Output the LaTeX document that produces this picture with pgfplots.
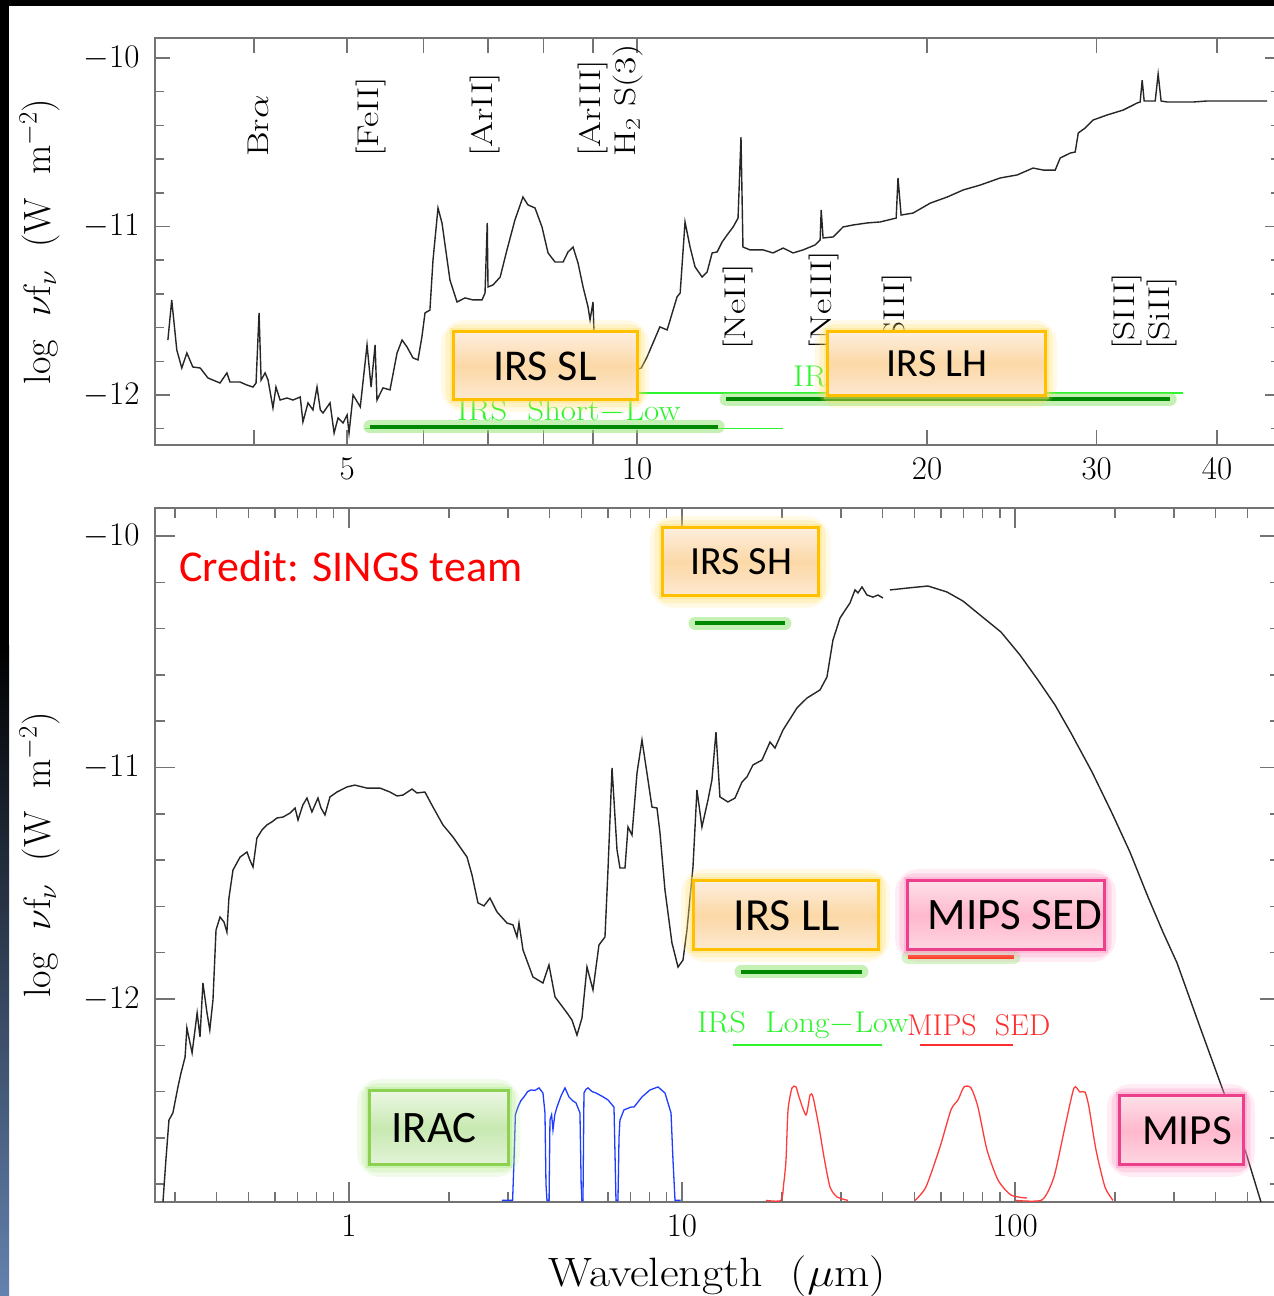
\RequirePackage{fix-cm}
\documentclass[border=0pt]{standalone}
\usepackage{graphicx}
\usepackage{fontspec}
\newfontfamily\carlito{Carlito}
\usepackage{pgfplots}
\pgfplotsset{compat=1.18}

% callout colours
\definecolor{orgedge}{RGB}{255,192,0}
\definecolor{orgglow}{RGB}{255,222,100}
\definecolor{orgtop}{RGB}{253,238,222}
\definecolor{orgmid}{RGB}{252,216,166}
\definecolor{orgbot}{RGB}{253,233,210}
\definecolor{pnkedge}{RGB}{236,64,140}
\definecolor{pnkglow}{RGB}{255,140,190}
\definecolor{pnktop}{RGB}{253,224,232}
\definecolor{pnkmid}{RGB}{255,184,205}
\definecolor{pnkbot}{RGB}{254,214,226}
\definecolor{grnedge}{RGB}{140,210,80}
\definecolor{grnglow}{RGB}{170,232,130}
\definecolor{grntop}{RGB}{236,247,228}
\definecolor{grnmid}{RGB}{200,233,178}
\definecolor{grnbot}{RGB}{226,243,215}
\definecolor{bardark}{RGB}{0,136,0}
\definecolor{barglow}{RGB}{150,232,120}
\definecolor{barred}{RGB}{255,51,0}
\definecolor{lgreen}{RGB}{45,245,45}
\definecolor{lred}{RGB}{255,45,45}
\definecolor{iracblue}{RGB}{30,60,255}
\definecolor{mipsred}{RGB}{255,60,60}
\definecolor{steel}{RGB}{100,130,175}

\newcommand{\labfont}{\fontsize{30}{30}\selectfont}
% plot-style lettering is set a little wide
\newcommand{\wide}[2][1.25]{\scalebox{#1}[1]{#2}}

% glowing callout: #1 colour prefix, #2..#5 corners, #6 font size, #7 text centre x, #8 text
\newcommand{\callout}[8]{%
  \draw[draw=#1glow, opacity=0.16, line width=24pt, rounded corners=12pt] (#2,#3) rectangle (#4,#5);
  \draw[draw=#1glow, opacity=0.25, line width=15pt, rounded corners=7pt] (#2,#3) rectangle (#4,#5);
  \draw[draw=#1glow, opacity=0.35, line width=7pt] (#2,#3) rectangle (#4,#5);
  \shade[top color=#1top, bottom color=#1bot, middle color=#1mid] (#2,#3) rectangle (#4,#5);
  \draw[draw=#1edge, line width=3pt] (#2,#3) rectangle (#4,#5);
  \node[font=\carlito\fontsize{#6}{#6}\selectfont, inner sep=0pt] at (#7,{(#3+#5)/2}) {#8};
}

\pgfplotsset{
  sedaxis/.style={
    scale only axis, anchor=south west, width=1125pt,
    axis line style={draw=black!55, line width=1.8pt},
    every tick/.style={draw=black!55, line width=1.5pt},
    tick label style={font=\fontsize{33}{33}\selectfont},
    xticklabel style={yshift=-9pt},
    yticklabel style={xshift=-12pt},
    ylabel={log\ \ $\nu$f$_\nu$\ \ (W\ \ m$^{-2}$)},
    ylabel style={font=\fontsize{38}{38}\selectfont, at={(axis description cs:-0.1025,0.5)}, anchor=center},
  },
  spec/.style={black!85, line width=1.4pt, mark=none},
  glowbar/.style={barglow, opacity=0.55, line width=13pt, line cap=round},
  darkbar/.style={bardark, line width=4pt},
}

\begin{document}
\begin{tikzpicture}[x=1pt, y=1pt]
% page background
\fill[white] (0,0) rectangle (1274,1296);
\fill[black] (0,1290) rectangle (1274,1296);
\fill[black] (0,650) rectangle (9,1296);
\shade[top color=black, bottom color=steel] (0,0) rectangle (9,650);

% ---------------- upper panel: IRS spectrum ----------------
\begin{axis}[xmode=log, sedaxis,
  at={(155pt,851pt)}, height=407pt,
  xmin=3.159, xmax=46.5, ymin=-12.297, ymax=-9.881,
  xtick={4,5,6,7,8,9,10,20,30,40},
  xticklabels={,5,,,,,10,20,30,40},
  ytick={-12,-11,-10},
  minor ytick={-12.2,-11.8,-11.6,-11.4,-11.2,-10.8,-10.6,-10.4,-10.2},
  major tick length=15pt, minor tick length=9pt,
]
\addplot[spec] coordinates {
(3.258,-11.674) (3.288,-11.436) (3.328,-11.733) (3.368,-11.840) (3.409,-11.751) (3.458,-11.834)
(3.52,-11.840) (3.585,-11.899) (3.69,-11.929) (3.752,-11.869) (3.779,-11.923) (3.87,-11.923)
(3.936,-11.941) (3.993,-11.953) (4.022,-11.929) (4.051,-11.513) (4.071,-11.911) (4.11,-11.869)
(4.139,-11.911) (4.188,-12.077) (4.218,-11.953) (4.26,-12.030) (4.331,-12.018) (4.393,-12.030)
(4.47,-12.012) (4.499,-12.160) (4.554,-12.047) (4.608,-12.089) (4.653,-11.953) (4.69,-12.089)
(4.72,-12.107) (4.80,-12.047) (4.847,-12.226) (4.893,-12.136) (4.952,-12.166) (5.0,-12.119)
(5.023,-12.226) (5.072,-12.0) (5.16,-12.071) (5.244,-11.703) (5.295,-11.953) (5.346,-11.703)
(5.37,-12.030) (5.448,-11.958) (5.54,-11.970) (5.634,-11.751) (5.702,-11.674) (5.77,-11.715)
(5.853,-11.780) (5.923,-11.792) (5.979,-11.656) (6.024,-11.513) (6.095,-11.496) (6.14,-11.199)
(6.214,-10.890) (6.273,-10.979) (6.394,-11.318) (6.503,-11.448) (6.629,-11.424) (6.757,-11.436)
(6.903,-11.436) (6.953,-11.395) (6.99,-10.979) (7.003,-11.359) (7.087,-11.347) (7.21,-11.300)
(7.328,-11.139) (7.469,-10.961) (7.613,-10.825) (7.705,-10.872) (7.836,-10.890) (7.968,-11.003)
(8.083,-11.157) (8.219,-11.211) (8.379,-11.211) (8.479,-11.151) (8.581,-11.122) (8.684,-11.217)
(8.789,-11.359) (8.894,-11.478) (8.937,-11.555) (9.0,-11.448) (9.02,-11.614) (9.066,-11.674)
(9.6,-11.881) (10.1,-11.84) (10.24,-11.775) (10.56,-11.596) (10.745,-11.614) (11.003,-11.418)
(11.085,-11.395) (11.215,-10.973) (11.35,-11.122) (11.487,-11.240) (11.682,-11.300) (11.823,-11.270)
(11.965,-11.157) (12.11,-11.151) (12.255,-11.092) (12.402,-11.050) (12.58,-11.003) (12.73,-10.950)
(12.82,-10.469) (12.88,-11.122) (13.1,-11.139) (13.52,-11.139) (13.84,-11.157) (14.18,-11.128)
(14.52,-11.157) (14.87,-11.139) (15.30,-11.110) (15.49,-11.080) (15.53,-10.902) (15.60,-11.068)
(15.98,-11.062) (16.36,-11.003) (16.76,-10.991) (17.33,-10.979) (17.88,-10.973) (18.58,-10.950)
(18.66,-10.712) (18.80,-10.932) (19.35,-10.920) (20.16,-10.861) (20.99,-10.825) (21.81,-10.783)
(22.71,-10.754) (23.82,-10.712) (24.81,-10.694) (25.77,-10.653) (26.40,-10.665) (27.17,-10.665)
(27.50,-10.593) (28.17,-10.564) (28.50,-10.558) (28.71,-10.445) (29.19,-10.415) (29.75,-10.368)
(30.76,-10.338) (31.96,-10.309) (33.05,-10.267) (33.29,-10.261) (33.45,-10.131) (33.61,-10.255)
(34.51,-10.255) (34.75,-10.095) (35.0,-10.255) (35.50,-10.261) (37.79,-10.261) (39.07,-10.255)
(41.0,-10.255) (45.1,-10.255)
};
% module coverage bars
\addplot[lgreen, line width=1.2pt] coordinates {(5.22,-12.200) (14.18,-12.200)};
\addplot[lgreen, line width=1.2pt] coordinates {(9.15,-11.988) (36.9,-11.988)};
\addplot[glowbar] coordinates {(5.28,-12.19) (12.14,-12.19)};
\addplot[darkbar] coordinates {(5.28,-12.19) (12.14,-12.19)};
\addplot[glowbar] coordinates {(12.37,-12.024) (35.77,-12.024)};
\addplot[darkbar] coordinates {(12.37,-12.024) (35.77,-12.024)};
\end{axis}

% ---------------- lower panel: full SED ----------------
\begin{axis}[xmode=log, sedaxis,
  at={(155pt,94pt)}, height=694pt,
  xmin=0.2615, xmax=625, ymin=-12.877, ymax=-9.879,
  xtick={1,10,100}, xticklabels={1,10,100},
  minor xtick={0.3,0.4,0.5,0.6,0.7,0.8,0.9,2,3,4,5,6,7,8,9,20,30,40,50,60,70,80,90,200,300,400,500},
  ytick={-12,-11,-10},
  minor ytick={-12.8,-12.6,-12.4,-12.2,-11.8,-11.6,-11.4,-11.2,-10.8,-10.6,-10.4,-10.2},
  major tick length=20pt, minor tick length=10pt,
  xlabel={\wide[1.12]{Wavelength\ \ ($\mu$m)}},
  xlabel style={font=\fontsize{41}{41}\selectfont, at={(axis description cs:0.5,-0.1075)}, anchor=center},
]
\addplot[spec] coordinates {
(0.2763,-12.877) (0.282,-12.695) (0.288,-12.523) (0.296,-12.492) (0.3065,-12.380) (0.313,-12.320)
(0.322,-12.251) (0.326,-12.125) (0.338,-12.233) (0.350,-12.060) (0.357,-12.164) (0.3643,-11.931)
(0.3747,-12.060) (0.382,-12.134) (0.3905,-12.004) (0.3988,-11.702) (0.410,-11.646) (0.4213,-11.667)
(0.430,-11.711) (0.436,-11.564) (0.4484,-11.443) (0.471,-11.387) (0.494,-11.365) (0.504,-11.400)
(0.515,-11.430) (0.529,-11.305) (0.548,-11.270) (0.567,-11.248) (0.587,-11.235) (0.608,-11.218)
(0.634,-11.214) (0.665,-11.197) (0.689,-11.175) (0.703,-11.227) (0.727,-11.162) (0.748,-11.132)
(0.774,-11.192) (0.807,-11.132) (0.824,-11.175) (0.847,-11.205) (0.877,-11.127) (0.920,-11.106)
(0.986,-11.084) (1.042,-11.076) (1.132,-11.089) (1.239,-11.089) (1.328,-11.106) (1.394,-11.123)
(1.453,-11.119) (1.546,-11.093) (1.600,-11.110) (1.691,-11.106) (1.788,-11.171) (1.915,-11.248)
(2.052,-11.300) (2.262,-11.387) (2.341,-11.464) (2.440,-11.585) (2.543,-11.598) (2.651,-11.564)
(2.783,-11.624) (2.982,-11.672) (3.108,-11.680) (3.196,-11.732) (3.240,-11.672) (3.331,-11.788)
(3.568,-11.905) (3.824,-11.931) (3.987,-11.853) (4.156,-11.991) (4.515,-12.060) (4.674,-12.091)
(4.838,-12.156) (5.008,-12.082) (5.185,-11.862) (5.404,-11.961) (5.632,-11.767) (5.872,-11.732)
(5.995,-11.443) (6.165,-11.002) (6.381,-11.356) (6.513,-11.434) (6.744,-11.434) (6.885,-11.257)
(7.078,-11.292) (7.328,-11.024) (7.585,-10.881) (7.851,-11.024) (8.127,-11.171) (8.413,-11.175)
(8.59,-11.283) (8.89,-11.529) (9.33,-11.758) (9.73,-11.862) (10.07,-11.832) (10.35,-11.702)
(10.79,-11.430) (11.09,-11.097) (11.48,-11.257) (11.97,-11.140) (12.30,-11.054) (12.65,-10.847)
(13.0,-11.127) (13.74,-11.149) (14.43,-11.132) (15.14,-11.063) (15.67,-11.041) (16.34,-10.989)
(17.39,-10.968) (18.38,-10.890) (19.03,-10.916) (20.11,-10.838) (22.14,-10.743) (23.73,-10.700)
(25.97,-10.665) (27.25,-10.609) (28.41,-10.449) (29.83,-10.354) (31.96,-10.289) (33.08,-10.233)
(33.78,-10.246) (34.72,-10.220) (35.94,-10.255) (37.47,-10.264) (38.78,-10.255) (40.14,-10.268)
};
\addplot[spec] coordinates {
(42.14,-10.233) (47.4,-10.225) (54.8,-10.216) (62.5,-10.242) (69.8,-10.281) (78.5,-10.341)
(90.8,-10.415) (103.5,-10.514) (117.2,-10.622) (131.9,-10.730) (147.3,-10.851) (170.3,-11.019)
(195.6,-11.197) (221.4,-11.365) (250.8,-11.559) (278.2,-11.711) (306.6,-11.844) (359.4,-12.121)
(424.2,-12.406) (494,-12.665) (547.9,-12.877)
};
% IRAC bandpasses
\addplot[iracblue, line width=1.3pt] coordinates {
(2.88,-12.87) (3.10,-12.87) (3.13,-12.70) (3.16,-12.50) (3.217,-12.467) (3.28,-12.44) (3.354,-12.423)
(3.44,-12.40) (3.521,-12.393) (3.62,-12.395) (3.721,-12.384) (3.824,-12.406) (3.878,-12.492)
(3.905,-12.80) (3.932,-12.87) (3.99,-12.87)};
\addplot[iracblue, line width=1.3pt] coordinates {
(3.95,-12.87) (3.99,-12.87) (4.014,-12.523) (4.06,-12.50) (4.098,-12.566) (4.15,-12.50) (4.213,-12.467)
(4.33,-12.42) (4.453,-12.384) (4.577,-12.423) (4.70,-12.44) (4.805,-12.449) (4.939,-12.492)
(4.98,-12.80) (5.008,-12.87) (5.06,-12.87)};
\addplot[iracblue, line width=1.3pt] coordinates {
(4.98,-12.87) (5.043,-12.87) (5.078,-12.406) (5.15,-12.39) (5.220,-12.384) (5.37,-12.40) (5.516,-12.406)
(5.75,-12.42) (5.995,-12.436) (6.249,-12.467) (6.30,-12.70) (6.336,-12.87) (6.40,-12.87)};
\addplot[iracblue, line width=1.3pt] coordinates {
(6.35,-12.87) (6.424,-12.87) (6.47,-12.60) (6.513,-12.523) (6.696,-12.479) (7.028,-12.467) (7.177,-12.467)
(7.585,-12.423) (8.014,-12.393) (8.472,-12.380) (8.89,-12.406) (9.27,-12.492) (9.40,-12.70)
(9.53,-12.87) (9.9,-12.87)};
% MIPS bandpasses
\addplot[mipsred, line width=1.3pt, smooth, tension=0.4] coordinates {
(17.88,-12.87) (19.83,-12.87) (20.2,-12.80) (20.53,-12.695) (20.82,-12.479) (21.40,-12.384) (22.0,-12.380)
(22.46,-12.423) (23.57,-12.501) (24.24,-12.415) (24.74,-12.423) (25.79,-12.553) (26.70,-12.683)
(27.83,-12.812) (29.21,-12.855) (31.52,-12.87)};
\addplot[mipsred, line width=1.3pt, smooth, tension=0.4] coordinates {
(50.1,-12.87) (54.03,-12.812) (59.55,-12.639) (64.24,-12.479) (67.44,-12.436) (70.29,-12.380)
(73.78,-12.384) (77.43,-12.467) (82.40,-12.652) (88.92,-12.782) (97.3,-12.847) (108.7,-12.860)};
\addplot[mipsred, line width=1.3pt, smooth, tension=0.4] coordinates {
(100.7,-12.87) (120.5,-12.868) (130.9,-12.769) (141.3,-12.553) (150.4,-12.384) (156.7,-12.402)
(162.3,-12.402) (166.8,-12.467) (175.1,-12.652) (186.3,-12.812) (197.0,-12.87)};
% spectrograph coverage
\addplot[lgreen, line width=1.2pt] coordinates {(14.23,-12.199) (39.87,-12.199)};
\addplot[lred, line width=1.2pt] coordinates {(51.8,-12.199) (98.6,-12.199)};
\addplot[glowbar] coordinates {(10.94,-10.376) (20.39,-10.376)};
\addplot[darkbar] coordinates {(10.94,-10.376) (20.39,-10.376)};
\addplot[glowbar] coordinates {(15.04,-11.883) (34.72,-11.883)};
\addplot[darkbar] coordinates {(15.04,-11.883) (34.72,-11.883)};
\addplot[glowbar, opacity=0.4] coordinates {(47.7,-11.819) (99.3,-11.819)};
\addplot[barred, line width=4pt] coordinates {(47.7,-11.819) (99.3,-11.819)};
\end{axis}

% line identifications
\begin{scope}[every node/.style={font=\labfont, rotate=90, anchor=west, inner sep=0pt}]
\node at (258,1139) {\wide{Br$\alpha$}};
\node at (371,1139) {\wide{[FeII]}};
\node at (485,1139) {\wide{[ArII]}};
\node at (593,1139) {\wide{[ArIII]}};
\node at (628,1139) {\wide{H$_2$\ S(3)}};
\node at (738,946) {\wide{[NeII]}};
\node at (824,946) {\wide{[NeIII]}};
\node at (897,946) {\wide{[SIII]}};
\node at (1127,946) {\wide{[SIII]}};
\node at (1162,946) {\wide{[SiII]}};
\end{scope}

\node[font=\labfont, text=lgreen, anchor=west, inner sep=0pt] at (457,885) {\wide[1.1]{IRS\ \ Short$-$Low}};
\node[font=\labfont, text=lgreen, anchor=west, inner sep=0pt] at (793,920) {\wide[1.1]{IRS}};
\node[font=\labfont, text=lgreen, anchor=west, inner sep=0pt] at (697,271) {\wide[1.07]{IRS\ \ Long$-$Low}};
\node[font=\labfont, text=lred, anchor=west, inner sep=0pt] at (907,271) {MIPS\ \ SED};

% instrument callouts
\callout{org}{453}{896}{637}{964}{44}{545}{IRS SL}
\callout{org}{827}{900}{1045}{964}{40}{937}{IRS LH}
\callout{org}{662}{700}{818}{768}{40}{741}{IRS SH}
\callout{org}{693}{346}{878}{415}{46}{787}{IRS LL}
\callout{pnk}{907}{346}{1104}{415}{45}{1015}{MIPS SED}
\callout{grn}{369}{131}{508}{205}{45}{434}{IRAC}
\callout{pnk}{1119}{131}{1243}{200}{43}{1187}{MIPS}

\node[font=\carlito\fontsize{44}{44}\selectfont, text=red, anchor=base west, inner sep=0pt] at (179,714) {Credit: SINGS team};

\pgfresetboundingbox
\useasboundingbox (0,0) rectangle (1274,1296);
\end{tikzpicture}
\end{document}
